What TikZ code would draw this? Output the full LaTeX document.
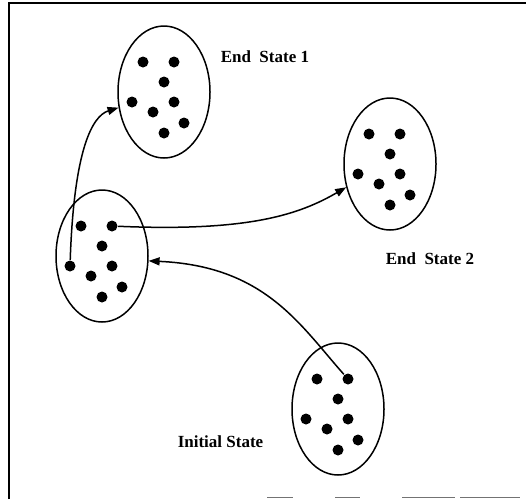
\documentclass[tikz,border=0pt]{standalone}
\usepackage{fontspec}
\setmainfont{Liberation Serif}
\usetikzlibrary{shapes.geometric,arrows.meta}

\begin{document}
\begin{tikzpicture}[
		x=1pt, y=-1pt,
		line width=1.5pt,
		set/.style={ellipse, draw, minimum width=92pt, minimum height=132pt, inner sep=0pt},
		dot/.style={circle, fill, minimum size=11pt, inner sep=0pt},
		move/.style={-{Triangle[length=11pt, width=8pt]}},
		caption/.style={anchor=base west, inner sep=0pt, font=\fontsize{17}{20}\selectfont\bfseries}
	]
  \useasboundingbox (0,0) rectangle (526,499);
  % frame
  \draw (9,499) -- (9,3) -- (526,3);
  \draw [black!55, line width=1pt] (267,497) -- (293,497) (335,497) -- (360,497)
        (402,497) -- (455,497) (460,497) -- (520,497);
  % the four sets
  \node (set_e1) [set] at (164,92) {};
  \node (set_e2) [set] at (390,164) {};
  \node (set_m) [set] at (102,256) {};
  \node (set_i) [set] at (338,409) {};
  \foreach \s in {set_e1,set_e2,set_m,set_i}
    \foreach \dx/\dy [count=\k] in {-21/-30, 10/-30, 0/-10, -32/10, 10/10, -11/20, 20/31, 0/41}
      \node (\s_\k) [dot] at ([shift={(\dx,\dy)}]\s.center) {};
  % labels
  \node (lbl_e1) [caption] at (220,62) {End\ \ State 1};
  \node (lbl_e2) [caption] at (385,264) {End\ \ State 2};
  \node (lbl_i) [caption] at (177,447) {Initial State};
  % transitions
  \draw [move] (set_m_4) .. controls (74,150) and (92,116) .. (set_e1.199);
  \draw [move] (set_m_2) .. controls (250,232) and (300,214) .. (set_e2.208);
  \draw [move] (set_i_2) .. controls (300,325) and (265,266) .. (set_m.354);
\end{tikzpicture}
\end{document}
